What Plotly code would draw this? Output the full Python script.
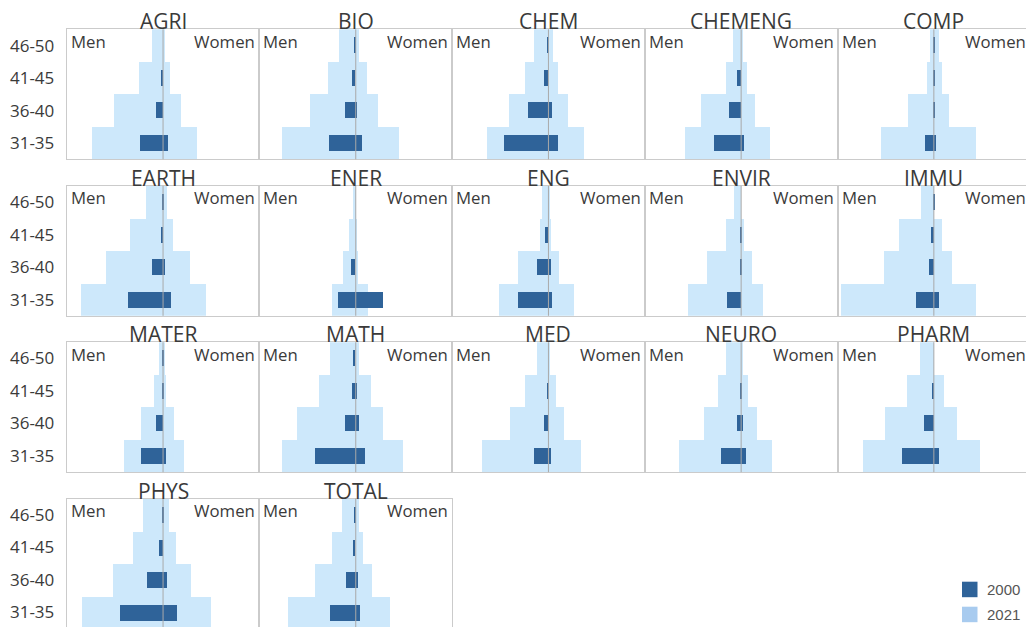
import plotly.graph_objects as go

# panels, age groups (top to bottom) and years
fields = ["AGRI", "BIO", "CHEM", "CHEMENG", "COMP",
          "EARTH", "ENER", "ENG", "ENVIR", "IMMU",
          "MATER", "MATH", "MED", "NEURO", "PHARM",
          "PHYS", "TOTAL"]
ages = ["46-50", "41-45", "36-40", "31-35"]
years = ["2000", "2021"]

# values per field, in the order of `ages`
men_2021 = [
    [11.7, 24.0, 49.0, 71.7], [16.0, 27.7, 45.0, 73.3], [14.7, 23.1, 38.9, 61.7],
    [8.4, 15.1, 40.8, 56.2], [4.8, 7.7, 26.1, 53.6],
    [17.7, 33.3, 57.3, 82.7], [2.7, 6.0, 12.7, 23.7], [6.6, 8.5, 30.5, 48.9],
    [7.7, 15.8, 34.2, 53.6], [13.2, 35.3, 50.7, 92.9],
    [4.0, 9.3, 22.3, 39.0], [25.0, 36.0, 58.3, 73.3], [11.0, 23.1, 38.6, 66.1],
    [15.8, 23.1, 37.8, 62.5], [14.0, 27.6, 48.9, 70.9],
    [20.7, 30.7, 50.7, 81.7], [13.3, 23.3, 40.3, 67.0],
]
women_2021 = [
    [1.5, 6.7, 17.7, 33.3], [4.0, 11.3, 22.3, 43.3], [4.4, 9.9, 19.8, 35.6],
    [0.7, 5.5, 13.6, 29.0], [4.4, 7.3, 14.3, 41.9],
    [3.3, 9.3, 26.7, 42.3], [0.3, 1.0, 3.0, 12.3], [0.7, 2.6, 11.0, 25.7],
    [0.0, 2.6, 10.7, 21.7], [0.0, 8.1, 17.3, 41.9],
    [0.7, 2.7, 10.7, 21.0], [4.0, 15.7, 27.3, 48.0], [0.7, 7.3, 15.4, 33.1],
    [0.7, 7.0, 15.4, 30.9], [0.0, 9.9, 22.8, 45.9],
    [5.7, 12.7, 27.3, 47.7], [3.3, 7.3, 16.7, 34.7],
]
men_2000 = [
    [0.0, 2.7, 7.0, 23.3], [1.5, 3.3, 10.3, 26.7], [1.1, 4.4, 20.2, 44.8],
    [0.0, 4.8, 12.1, 27.6], [0.5, 1.1, 1.8, 9.2],
    [1.7, 2.3, 11.7, 35.0], [0.0, 0.0, 4.3, 17.7], [0.0, 2.9, 11.0, 30.5],
    [0.0, 1.5, 1.5, 14.0], [1.0, 2.9, 5.5, 18.4],
    [1.0, 1.0, 7.0, 22.7], [2.7, 3.3, 10.3, 40.0], [0.0, 1.8, 4.8, 14.0],
    [0.0, 1.1, 4.8, 20.2], [0.0, 2.2, 10.3, 32.3],
    [1.3, 4.3, 16.7, 43.3], [1.7, 2.7, 9.3, 25.0],
]
women_2000 = [
    [0.0, 0.0, 0.0, 5.0], [0.0, 0.0, 1.3, 6.7], [0.0, 0.0, 3.7, 9.9],
    [0.0, 0.0, 0.0, 2.6], [0.0, 0.0, 0.0, 1.8],
    [0.0, 0.0, 1.3, 7.3], [0.0, 0.0, 0.0, 28.0], [0.0, 0.0, 2.6, 3.7],
    [0.0, 0.0, 0.0, 0.0], [0.0, 0.0, 0.0, 4.4],
    [0.0, 0.0, 0.0, 2.3], [0.0, 1.3, 3.3, 9.7], [0.0, 0.0, 0.0, 2.6],
    [0.0, 0.0, 1.8, 5.1], [0.0, 0.0, 0.0, 4.4],
    [0.0, 0.0, 3.3, 13.3], [0.0, 0.0, 2.3, 5.0],
]

W, H = 1026, 627
ML, MT = 66, 29
PW, PH = W - ML, H - MT

# positions below are in page pixels
def ann_x(p):
    return (p - ML) / PW

def ann_y(p):
    return 1 - (p - MT) / PH

def px_x(p):
    return min(1.0, max(0.0, ann_x(p)))

def px_y(p):
    return min(1.0, max(0.0, ann_y(p)))

COL_W = 192.7
ROW_H = 130.0
ROW_TOPS = [29.3, 185.8, 342.2, 498.6]
LEFT0 = 66.7
HALF = 96.35
LIGHT = "#cde8fb"
DARK = "#2f6399"
FRAME = "#cbcbcb"
MID = "#a9a9a9"
TXT = "#3a3a3a"
FONT = "Open Sans"

fig = go.Figure()
shapes, annots = [], []

for k, name in enumerate(fields):
    r, c = divmod(k, 5)
    sfx = "" if k == 0 else str(k + 1)
    left = LEFT0 + c * COL_W
    right = left + COL_W
    top = ROW_TOPS[r]
    bottom = top + ROW_H
    vis_right = min(right, W)
    vis_bottom = min(bottom, H)

    # bars: light 2021 behind, dark 2000 on top
    for men, women, color, width in [(men_2021, women_2021, LIGHT, 1.0),
                                     (men_2000, women_2000, DARK, 0.5)]:
        fig.add_trace(go.Bar(y=ages, x=[-v for v in men[k]], orientation="h",
                             marker=dict(color=color, line_width=0), width=width,
                             xaxis="x" + sfx, yaxis="y" + sfx, showlegend=False,
                             hoverinfo="skip"))
        fig.add_trace(go.Bar(y=ages, x=women[k], orientation="h",
                             marker=dict(color=color, line_width=0), width=width,
                             xaxis="x" + sfx, yaxis="y" + sfx, showlegend=False,
                             hoverinfo="skip"))

    xmax = -HALF + (vis_right - left) / COL_W * 2 * HALF
    ybot = -0.5 + (vis_bottom - top) / ROW_H * len(ages)
    fig.layout["xaxis" + sfx] = dict(
        domain=[px_x(left), px_x(vis_right)], range=[-HALF, xmax], anchor="y" + sfx,
        showticklabels=False, showgrid=False, zeroline=False,
        showline=True, mirror=True, linecolor=FRAME, linewidth=1)
    fig.layout["yaxis" + sfx] = dict(
        domain=[px_y(vis_bottom), px_y(top)], anchor="x" + sfx,
        type="category", categoryorder="array", categoryarray=ages,
        range=[ybot, -0.5], showgrid=False, zeroline=False,
        showticklabels=(c == 0), ticks="outside" if c == 0 else "",
        ticklen=8, tickcolor="rgba(0,0,0,0)",
        tickfont=dict(family=FONT, size=17, color=TXT),
        showline=True, mirror=True, linecolor=FRAME, linewidth=1)

    # centre line
    shapes.append(dict(type="line", xref="x" + sfx, yref="y" + sfx + " domain",
                       x0=0, x1=0, y0=0, y1=1, line=dict(color=MID, width=1),
                       layer="above"))

    annots.append(dict(text=name, xref="paper", yref="paper",
                       x=ann_x(left + COL_W / 2), y=ann_y(top), xanchor="center",
                       yanchor="bottom", yshift=-8, showarrow=False,
                       font=dict(family=FONT, size=21, color=TXT)))
    annots.append(dict(text="Men", xref="paper", yref="paper",
                       x=ann_x(left + 2), y=ann_y(top + 12), xanchor="left",
                       yanchor="middle", showarrow=False,
                       font=dict(family=FONT, size=16.8, color=TXT)))
    annots.append(dict(text="Women", xref="paper", yref="paper",
                       x=ann_x(right - 2), y=ann_y(top + 12), xanchor="right",
                       yanchor="middle", showarrow=False,
                       font=dict(family=FONT, size=16.8, color=TXT)))

# legend
for i, (yr, color) in enumerate(zip(years, [DARK, "#a8cbef"])):
    y_top = 581.7 + i * 25
    shapes.append(dict(type="rect", xref="paper", yref="paper",
                       x0=ann_x(962), x1=ann_x(977.5), y0=ann_y(y_top + 15.5), y1=ann_y(y_top),
                       fillcolor=color, line_width=0))
    annots.append(dict(text=yr, xref="paper", yref="paper",
                       x=ann_x(985), y=ann_y(y_top + 7.8), xanchor="left", yanchor="middle",
                       showarrow=False,
                       font=dict(family="Liberation Sans", size=15, color="#555555")))

fig.update_layout(
    width=W, height=H, barmode="overlay", bargap=0,
    margin=dict(l=ML, r=0, t=MT, b=0),
    paper_bgcolor="white", plot_bgcolor="white",
    shapes=shapes, annotations=annots, showlegend=False,
)

# drop the default body margin so the figure fills the window exactly
fig.write_html("out.html", config={"displayModeBar": False},
               post_script="document.body.style.margin='0';")
